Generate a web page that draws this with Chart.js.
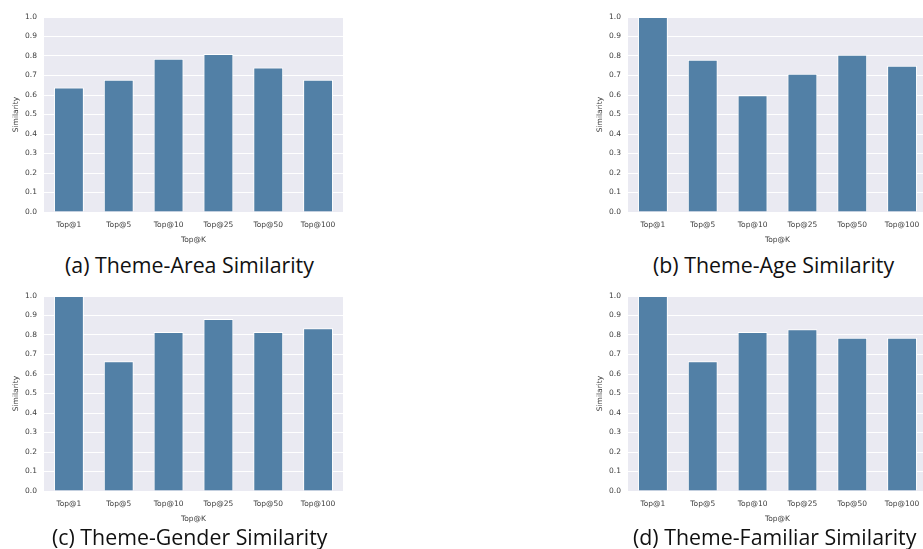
<!DOCTYPE html>
<html>
<head>
<meta charset="utf-8">
<script src="https://cdn.jsdelivr.net/npm/chart.js@4"></script>
<style>
  html, body { margin: 0; padding: 0; background: #fff; overflow: hidden; }
  body { width: 923px; height: 549px; position: relative; }
  .panel { position: absolute; width: 350px; height: 245px; }
  .cap { position: absolute; font-family: "Open Sans", "Noto Sans", sans-serif; font-size: 22px;
         color: #111; white-space: nowrap; line-height: 24px; transform-origin: left center; transform: scaleX(0.97); }
</style>
</head>
<body>
<div class="panel" style="left:0;top:0"><canvas id="cA"></canvas></div>
<div class="panel" style="left:584px;top:0"><canvas id="cB"></canvas></div>
<div class="panel" style="left:0;top:279px"><canvas id="cC"></canvas></div>
<div class="panel" style="left:584px;top:279px"><canvas id="cD"></canvas></div>
<div class="cap" style="left:65px;top:252px">(a) Theme-Area Similarity</div>
<div class="cap" style="left:653px;top:252px">(b) Theme-Age Similarity</div>
<div class="cap" style="left:52px;top:524px">(c) Theme-Gender Similarity</div>
<div class="cap" style="left:633px;top:524px">(d) Theme-Familiar Similarity</div>
<script>
const topK = ["Top@1", "Top@5", "Top@10", "Top@25", "Top@50", "Top@100"];
const areaSim = [0.639, 0.678, 0.786, 0.810, 0.741, 0.678];
const ageSim = [1.0, 0.781, 0.599, 0.709, 0.807, 0.750];
const genderSim = [1.0, 0.666, 0.816, 0.882, 0.816, 0.834];
const familiarSim = [1.0, 0.666, 0.816, 0.830, 0.786, 0.786];
const yTicks = [0, 0.1, 0.2, 0.3, 0.4, 0.5, 0.6, 0.7, 0.8, 0.9, 1.0];

const barColor = "#5280a6";
const textColor = "#3d3d3d";

// seaborn-like grey plot background
const plotBg = {
	id: "plotBg",
	beforeDraw(chart) {
		const a = chart.chartArea;
		const c = chart.ctx;
		c.save();
		c.fillStyle = "#eaeaf2";
		c.fillRect(a.left, a.top, a.right - a.left, a.bottom - a.top);
		c.restore();
	},
};

function makeChart(id, values) {
	const ctx = document.getElementById(id).getContext("2d");
	return new Chart(ctx, {
		type: "bar",
		data: {
			labels: topK,
			datasets: [
				{
					data: values,
					backgroundColor: barColor,
					borderColor: "#ffffff",
					borderWidth: 1,
					categoryPercentage: 1,
					barPercentage: 0.6,
				},
			],
		},
		options: {
			responsive: false,
			animation: false,
			devicePixelRatio: 1,
			layout: { padding: { top: 17, right: 7, left: 10, bottom: 0 } },
			plugins: { legend: { display: false }, tooltip: { enabled: false } },
			scales: {
				x: {
					grid: { display: false },
					border: { display: false },
					ticks: { color: textColor, font: { size: 7.5, family: "DejaVu Sans" }, padding: 1, maxRotation: 0 },
					title: { display: true, text: "Top@K", color: textColor, font: { size: 7.5, family: "DejaVu Sans" }, padding: 0 },
					afterFit(scale) { scale.height = 33; },
				},
				y: {
					min: 0,
					max: 1,
					afterBuildTicks(scale) { scale.ticks = yTicks.map((v) => ({ value: v })); },
					grid: { color: "#ffffff", lineWidth: 1, drawTicks: false },
					border: { display: false },
					ticks: {
						color: textColor,
						font: { size: 7.5, family: "DejaVu Sans" },
						padding: 7,
						callback: (v) => Number(v).toFixed(1),
					},
					title: { display: true, text: "Similarity", color: textColor, font: { size: 7.5, family: "DejaVu Sans" }, padding: 2 },
					afterFit(scale) { scale.width = 34; },
				},
			},
		},
		plugins: [plotBg],
	});
}

for (const id of ["cA", "cB", "cC", "cD"]) {
	const cv = document.getElementById(id);
	cv.width = 350;
	cv.height = 245;
}
makeChart("cA", areaSim);
makeChart("cB", ageSim);
makeChart("cC", genderSim);
makeChart("cD", familiarSim);
</script>
</body>
</html>
